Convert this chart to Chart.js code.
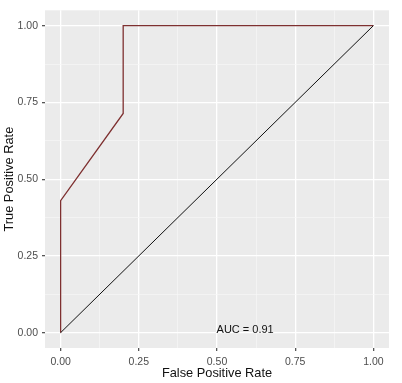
<!DOCTYPE html>
<html>
<head>
<meta charset="utf-8">
<script src="https://cdn.jsdelivr.net/npm/chart.js@4/dist/chart.umd.min.js"></script>
<style>
html,body{margin:0;padding:0;background:#fff;}
#wrap{width:402px;height:383px;position:relative;}
</style>
</head>
<body>
<div id="wrap"><canvas id="c" width="402" height="383"></canvas></div>
<script>
const rocFPR = [0, 0, 0.2, 0.2, 1];
const rocTPR = [0, 0.43, 0.714, 1, 1];
const diagX = [0, 1];
const diagY = [0, 1];
const tickValues = [0, 0.25, 0.5, 0.75, 1];
const aucLabel = 'AUC = 0.91';
const aucPos = [0.59, 0.01];
const xTitle = 'False Positive Rate';
const yTitle = 'True Positive Rate';

const FONT = '"Liberation Sans", Arial, sans-serif';
const isMajor = v => tickValues.some(t => Math.abs(t - v) < 1e-6);
const allGrid = [0,0.125,0.25,0.375,0.5,0.625,0.75,0.875,1];

const bgPlugin = {
  id: 'panelBg',
  beforeDraw(chart) {
    const {ctx, chartArea: a} = chart;
    ctx.save();
    ctx.fillStyle = '#EBEBEB';
    ctx.fillRect(a.left, a.top, a.right - a.left, a.bottom - a.top);
    ctx.restore();
  },
  afterDatasetsDraw(chart) {
    const {ctx} = chart;
    const xs = chart.scales.x, ys = chart.scales.y;
    ctx.save();
    ctx.font = '11px ' + FONT;
    ctx.fillStyle = '#111';
    ctx.textAlign = 'center';
    ctx.textBaseline = 'middle';
    ctx.fillText(aucLabel, xs.getPixelForValue(aucPos[0]), ys.getPixelForValue(aucPos[1]));
    ctx.restore();
  }
};

const gridCfg = {
  color: ctx => isMajor(ctx.tick.value) ? '#FFFFFF' : '#F6F6F6',
  lineWidth: ctx => isMajor(ctx.tick.value) ? 1.3 : 0.7,
  tickColor: ctx => isMajor(ctx.tick.value) ? '#555' : 'rgba(0,0,0,0)',
  tickLength: 3,
  drawTicks: true,
  z: 0
};

new Chart(document.getElementById('c'), {
  type: 'scatter',
  data: {
    datasets: [
      {
        data: diagX.map((x, i) => ({x, y: diagY[i]})),
        showLine: true,
        borderColor: '#111111',
        borderWidth: 1,
        pointRadius: 0,
        tension: 0
      },
      {
        data: rocFPR.map((x, i) => ({x, y: rocTPR[i]})),
        showLine: true,
        borderColor: '#7E3030',
        borderWidth: 1.3,
        pointRadius: 0,
        tension: 0
      }
    ]
  },
  plugins: [bgPlugin],
  options: {
    responsive: false,
    animation: false,
    devicePixelRatio: 1,
    layout: {padding: {left: 0, right: 13, top: 8, bottom: 0}},
    plugins: {legend: {display: false}, tooltip: {enabled: false}},
    scales: {
      x: {
        type: 'linear',
        min: -0.05, max: 1.05,
        afterBuildTicks: s => { s.ticks = allGrid.map(v => ({value: v})); },
        afterFit: s => { s.height = 35; },
        border: {display: false},
        grid: gridCfg,
        ticks: {
          autoSkip: false,
          maxRotation: 0,
          padding: 5,
          color: '#4D4D4D',
          font: {family: FONT, size: 10.5},
          callback: v => isMajor(v) ? v.toFixed(2) : ''
        },
        title: {
          display: true, text: xTitle, color: '#111',
          font: {family: FONT, size: 12.8},
          padding: {top: 0, bottom: 1.5}
        }
      },
      y: {
        type: 'linear',
        min: -0.05, max: 1.05,
        afterBuildTicks: s => { s.ticks = allGrid.map(v => ({value: v})); },
        afterFit: s => { s.width = 45; },
        border: {display: false},
        grid: gridCfg,
        ticks: {
          autoSkip: false,
          padding: 4,
          color: '#4D4D4D',
          font: {family: FONT, size: 10.5},
          callback: v => isMajor(v) ? v.toFixed(2) : ''
        },
        title: {
          display: true, text: yTitle, color: '#111',
          font: {family: FONT, size: 12.8},
          padding: {top: 1.5, bottom: 0}
        }
      }
    }
  }
});
</script>
</body>
</html>
